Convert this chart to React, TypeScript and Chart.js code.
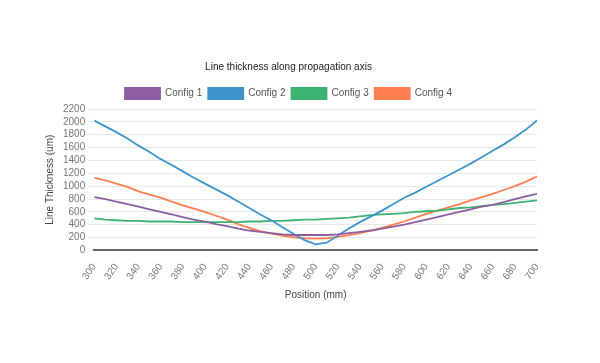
import React, { useEffect, useRef } from "react";
import { Chart, registerables } from "chart.js";

Chart.register(...registerables);

const positions = [300,310,320,330,340,350,360,370,380,390,400,410,420,430,440,450,460,470,480,490,500,510,520,530,540,550,560,570,580,590,600,610,620,630,640,650,660,670,680,690,700];
const config1 = [830,800,760,720,680,640,600,560,520,480,450,410,380,340,310,290,270,250,240,240,240,240,250,270,290,310,340,370,400,440,480,520,560,600,640,680,710,750,800,840,880];
const config2 = [2020,1930,1840,1740,1630,1530,1420,1330,1230,1130,1040,950,860,760,660,560,470,360,260,160,95,120,230,340,440,530,620,720,820,900,990,1080,1170,1260,1350,1450,1550,1650,1760,1880,2020];
const config3 = [500,480,470,460,460,450,450,450,440,440,440,440,440,440,450,450,460,460,470,480,480,490,500,510,530,550,560,570,580,600,610,620,640,660,670,690,710,720,740,760,780];
const config4 = [1130,1090,1040,990,920,870,820,760,700,650,600,540,480,410,350,300,260,230,205,190,185,190,210,240,270,310,350,400,450,510,570,620,670,720,780,830,880,940,1000,1070,1150];
const seriesNames = ["Config 1", "Config 2", "Config 3", "Config 4"];
const colors = ["#8e5ea2", "#3e95cd", "#3cb371", "#ff7f50"];

const FONT = "'Liberation Sans', Arial, sans-serif";

export default function App() {
  const ref = useRef<HTMLCanvasElement | null>(null);
  useEffect(() => {
    if (!ref.current) return;
    const all = [config1, config2, config3, config4];
    const chart = new Chart(ref.current, {
      type: "line",
      data: {
        datasets: all.map((vals, i) => ({
          label: seriesNames[i],
          data: vals.map((v, j) => ({ x: positions[j], y: v })),
          borderColor: colors[i],
          backgroundColor: colors[i],
          borderWidth: 1.8,
          pointRadius: 0,
          fill: false,
          tension: 0,
        })),
      },
      options: {
        animation: false,
        responsive: false,
        layout: { padding: { left: 32, right: 55, top: 45, bottom: 50 } },
        plugins: {
          title: {
            display: true,
            text: "Line thickness along propagation axis",
            color: "#222",
            font: { family: FONT, size: 10, weight: "normal" },
            padding: { top: 8, bottom: 9 },
          },
          legend: {
            labels: {
              boxWidth: 35,
              boxHeight: 11,
              color: "#555",
              font: { family: FONT, size: 10 },
              padding: 6,
            },
          },
          tooltip: { enabled: false },
        },
        scales: {
          x: {
            type: "linear",
            min: 300,
            max: 700,
            ticks: {
              stepSize: 20,
              autoSkip: false,
              maxRotation: 55,
              minRotation: 55,
              color: "#777",
              font: { family: FONT, size: 10 },
              callback: (v: any) => String(v),
            },
            grid: { display: false },
            border: { color: "#666", width: 2 },
            title: {
              display: true,
              text: "Position (mm)",
              color: "#444",
              font: { family: FONT, size: 10 },
            },
          },
          y: {
            min: 0,
            max: 2200,
            ticks: {
              stepSize: 200,
              autoSkip: false,
              color: "#777",
              font: { family: FONT, size: 10 },
              callback: (v: any) => String(v),
            },
            grid: { color: "#e8e8e8", tickLength: 6 },
            border: { display: false },
            title: {
              display: true,
              text: "Line Thickness (um)",
              color: "#444",
              font: { family: FONT, size: 10 },
            },
          },
        },
      },
    });
    return () => chart.destroy();
  }, []);
  return <canvas ref={ref} width={584} height={347} style={{ display: "block" }} />;
}
